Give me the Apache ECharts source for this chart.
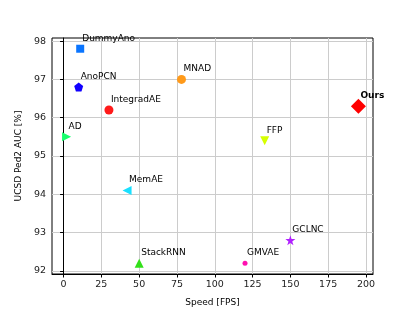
<!DOCTYPE html>
<html><head><meta charset="utf-8">
<script src="https://cdn.jsdelivr.net/npm/echarts@6/dist/echarts.min.js"></script>
<style>html,body{margin:0;padding:0;background:#fff}#c{width:415px;height:312px}</style>
</head><body><div id="c"></div>
<script>
const methods = ['DummyAno','AnoPCN','IntegradAE','AD','MNAD','Ours','FFP','MemAE','StackRNN','GMVAE','GCLNC'];
const speeds  = [11, 10, 30, 2, 78, 195, 133, 42, 50, 120, 150];
const aucs    = [97.8, 96.8, 96.2, 95.5, 97.0, 96.3, 95.4, 94.1, 92.2, 92.2, 92.8];
const xTicks = [0, 25, 50, 75, 100, 125, 150, 175, 200];
const yTicks = [92, 93, 94, 95, 96, 97, 98];

const PENT = 'path://M0,-1 L0.951,-0.309 L0.588,0.809 L-0.588,0.809 L-0.951,-0.309 Z';
const STAR = 'path://M0,-1 L0.2245,-0.309 L0.951,-0.309 L0.363,0.118 L0.588,0.809 L0,0.382 L-0.588,0.809 L-0.363,0.118 L-0.951,-0.309 L-0.2245,-0.309 Z';
const markers = [
  {symbol:'rect', size:8, rot:0, color:'#0a75ff'},
  {symbol:PENT, size:9, rot:0, color:'#1100ff'},
  {symbol:'circle', size:9, rot:0, color:'#ff1a1a'},
  {symbol:'triangle', size:[9,9], rot:-90, color:'#1aff6e'},
  {symbol:'circle', size:9, rot:0, color:'#ff9a1a'},
  {symbol:'diamond', size:[15,15], rot:0, color:'#ff0000'},
  {symbol:'triangle', size:[9,9], rot:180, color:'#d6ff00'},
  {symbol:'triangle', size:[9,9], rot:90, color:'#1ae0ff'},
  {symbol:'triangle', size:[9,9], rot:0, color:'#33e01a'},
  {symbol:'circle', size:5, rot:0, color:'#ff10b0'},
  {symbol:STAR, size:10, rot:0, color:'#b020ff'}
];

const FONT = 'DejaVu Sans';
const series = methods.map((m, i) => ({
  type: 'scatter',
  name: m,
  data: [[speeds[i], aucs[i]]],
  symbol: markers[i].symbol,
  symbolSize: markers[i].size,
  symbolRotate: markers[i].rot,
  itemStyle: {color: markers[i].color, opacity: 1},
  label: {
    show: true,
    formatter: m,
    position: 'inside',
    align: 'left',
    verticalAlign: 'middle',
    offset: [2, -10.5],
    color: '#000',
    fontFamily: FONT,
    fontSize: 9,
    fontWeight: m === 'Ours' ? 'bold' : 'normal'
  },
  emphasis: {disabled: true},
  animation: false
}));

const chart = echarts.init(document.getElementById('c'), null, {renderer: 'canvas'});
chart.setOption({
  animation: false,
  grid: {left: 52, right: 42, top: 38, bottom: 35, show: true, borderColor: '#000', borderWidth: 1, backgroundColor: 'transparent'},
  xAxis: {
    type: 'value', min: -7.65, max: 204.65,
    name: 'Speed [FPS]', nameLocation: 'middle', nameGap: 24,
    nameTextStyle: {fontFamily: FONT, fontSize: 9, color: '#000'},
    axisLine: {show: true, lineStyle: {color: '#000'}},
    axisTick: {show: true, length: 3.5, customValues: xTicks, lineStyle: {color: '#000'}},
    axisLabel: {customValues: xTicks, fontFamily: FONT, fontSize: 9.5, color: '#222', margin: 6},
    splitLine: {show: true, lineStyle: {color: '#cccccc', width: 1}}
  },
  yAxis: {
    type: 'value', min: 91.92, max: 98.08,
    name: 'UCSD Ped2 AUC [%]', nameLocation: 'middle', nameGap: 17,
    nameTextStyle: {fontFamily: FONT, fontSize: 9, color: '#000'},
    axisLine: {show: true, lineStyle: {color: '#000'}},
    axisTick: {show: true, length: 3.5, customValues: yTicks, lineStyle: {color: '#000'}},
    axisLabel: {customValues: yTicks, fontFamily: FONT, fontSize: 9.5, color: '#222', margin: 6},
    splitLine: {show: true, lineStyle: {color: '#cccccc', width: 1}}
  },
  series: series
});
</script></body></html>
